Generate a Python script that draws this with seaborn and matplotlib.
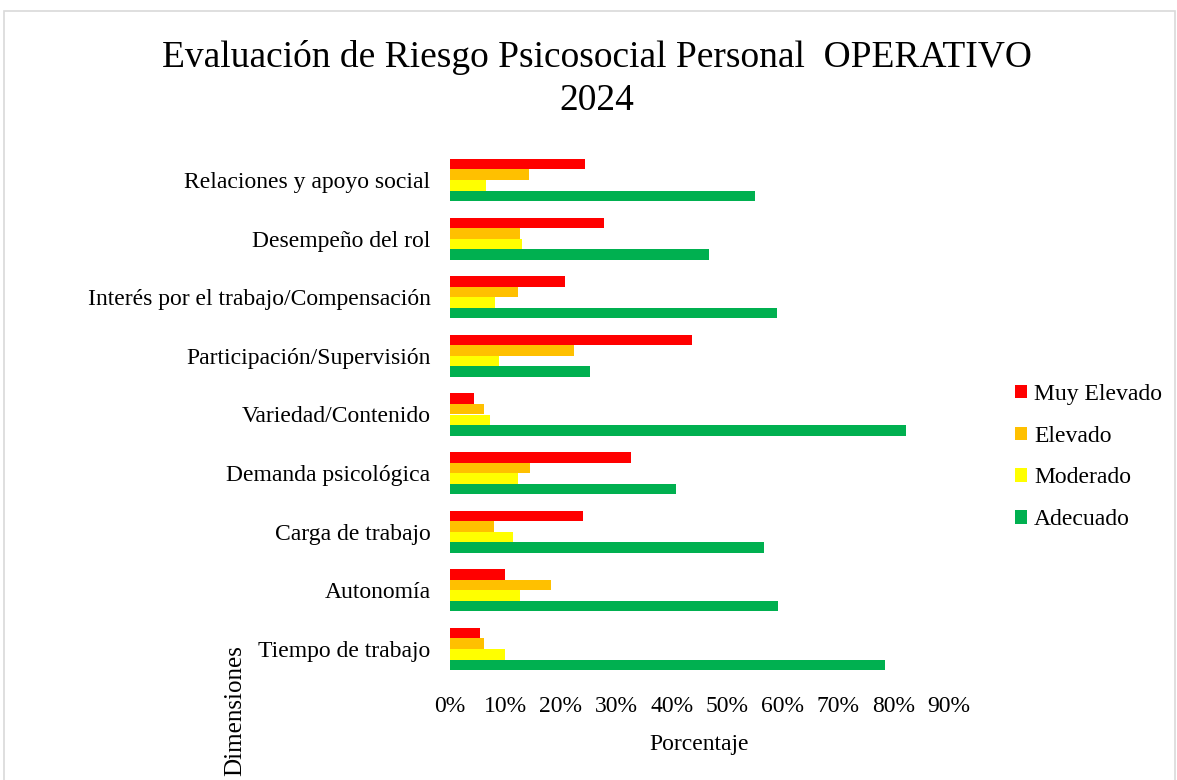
import numpy as np
import pandas as pd
import matplotlib
matplotlib.use("Agg")
import matplotlib.pyplot as plt
import seaborn as sns
from matplotlib.patches import Rectangle
from matplotlib.ticker import FuncFormatter

# data (percent)
dimensiones = [
    "Relaciones y apoyo social",
    "Desempeño del rol",
    "Interés por el trabajo/Compensación",
    "Participación/Supervisión",
    "Variedad/Contenido",
    "Demanda psicológica",
    "Carga de trabajo",
    "Autonomía",
    "Tiempo de trabajo",
]
niveles = ["Muy Elevado", "Elevado", "Moderado", "Adecuado"]
muy_elevado = [24.3, 27.8, 20.8, 43.7, 4.3, 32.6, 24.0, 10.0, 5.4]
elevado = [14.2, 12.6, 12.3, 22.4, 6.2, 14.5, 7.9, 18.3, 6.2]
moderado = [6.5, 12.9, 8.1, 8.8, 7.3, 12.3, 11.4, 12.6, 10.0]
adecuado = [55.0, 46.8, 58.9, 25.2, 82.3, 40.8, 56.6, 59.2, 78.4]
colores = ["#FF0000", "#FFC000", "#FFFF00", "#00B050"]

rows = []
for nivel, vals in zip(niveles, [muy_elevado, elevado, moderado, adecuado]):
    for dim, v in zip(dimensiones, vals):
        rows.append({"Dimension": dim, "Nivel": nivel, "Valor": v})
df = pd.DataFrame(rows)

sns.set_theme(style="white")
plt.rcParams["font.family"] = ["Liberation Serif", "DejaVu Serif"]
plt.rcParams["text.color"] = "black"

W, H = 1177, 780
fig = plt.figure(figsize=(W / 100, H / 100), dpi=100)
ax = fig.add_axes([450 / W, 1 - 678.3 / H, 499 / W, (678.3 - 150.7) / H])

sns.barplot(data=df, x="Valor", y="Dimension", hue="Nivel",
            order=dimensiones, hue_order=niveles, palette=colores,
            orient="h", width=0.72, gap=0, saturation=1, errorbar=None,
            linewidth=0, ax=ax)

fs = 17
ax.set_xlim(0, 90)
ax.set_xticks(np.arange(0, 91, 10))
ax.xaxis.set_major_formatter(FuncFormatter(lambda v, p: f"{v:.0f}%"))
ax.tick_params(axis="both", length=0, labelsize=fs, colors="black")
ax.tick_params(axis="y", pad=14)
ax.tick_params(axis="x", pad=13)
for s in ax.spines.values():
    s.set_visible(False)
ax.set_ylabel("")
ax.set_xlabel("Porcentaje", fontsize=fs, labelpad=12, color="black")

fig.text(235 / W, 1 - 645 / H, "Dimensiones", rotation=90, ha="center",
         va="top", fontsize=18, color="black")

fig.text(597 / W, 1 - 79 / H,
         "Evaluación de Riesgo Psicosocial Personal  OPERATIVO\n2024",
         ha="center", va="center", fontsize=27, linespacing=1.3,
         color="black")

leg = ax.legend(loc="center left", bbox_to_anchor=(1015 / W, 1 - 457 / H),
                bbox_transform=fig.transFigure, frameon=False, fontsize=fs,
                handlelength=0.5, handleheight=0.5, handletextpad=0.3,
                labelspacing=0.88, borderaxespad=0, borderpad=0)

fig.patches.append(Rectangle((4 / W, -0.02), 1171 / W, 1.02 - 11 / H,
                             transform=fig.transFigure, fill=False,
                             edgecolor="#D9D9D9", linewidth=1.2))

fig.savefig("out.png", dpi=100, facecolor="white")
